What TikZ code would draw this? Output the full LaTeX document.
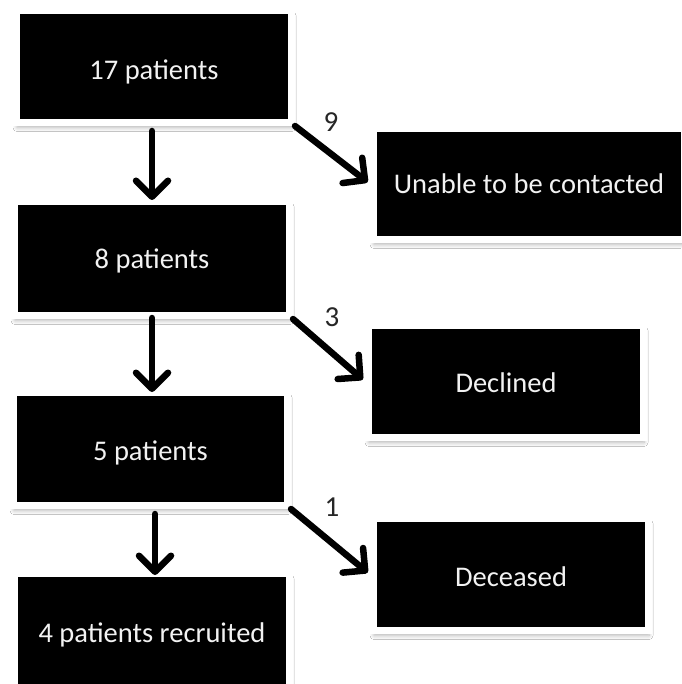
\documentclass[tikz,border=0pt]{standalone}
\usepackage{fontspec}
\setmainfont{Carlito}
\usetikzlibrary{arrows.meta,shadows.blur}
\tikzset{
  box/.style={rectangle, fill=black, draw=white, line width=7pt,
    text=white!90!gray, font=\fontsize{28.5}{32}\selectfont,
    inner sep=0pt, minimum width=275pt, minimum height=112pt,
    blur shadow={shadow xshift=0.5pt, shadow yshift=-5pt, shadow blur radius=4pt, shadow blur steps=6, shadow opacity=30}},
  flow/.style={line width=6.5pt, line cap=round,
    -{Straight Barb[length=16pt,width=32pt,line width=6.5pt,round]}},
  cnt/.style={font=\fontsize{29}{32}\selectfont, text=black!85}
}
\newcommand{\bt}[2][11pt]{\raisebox{-#1}[0pt][0pt]{#2}}
\begin{document}
\begin{tikzpicture}[x=1pt,y=-1pt]
\useasboundingbox (0,0) rectangle (681,684);
\fill[white] (0,0) rectangle (681,684);
\node[box] (b1) at (154,66.5) {\bt[13pt]{17 patients}};
\node[box, minimum height=114pt] (b2) at (152,258.5) {\bt[10pt]{8 patients}};
\node[box, minimum width=274pt, minimum height=113pt] (b3) at (150.5,449) {\bt{5 patients}};
\node[box, minimum height=114pt] (b4) at (152,630.5) {\bt[12pt]{4 patients recruited}};
\node[box, minimum width=311pt, minimum height=111pt] (r1) at (529,184) {\bt[10pt]{Unable to be contacted}};
\node[box] (r2) at (506,381.5) {\bt[10.5pt]{Declined}};
\node[box] (r3) at (511,574.5) {\bt[11.5pt]{Deceased}};
\coordinate (a1s) at (152,131);
\coordinate (a1e) at (152,200);
\coordinate (a2s) at (152,318);
\coordinate (a2e) at (152,392);
\coordinate (a3s) at (155,514);
\coordinate (a3e) at (155,575);
\draw[flow] (a1s) -- (a1e);
\draw[flow] (a2s) -- (a2e);
\draw[flow] (a3s) -- (a3e);
\draw[flow, shorten >=3pt] (b1.south east) -- (r1.west);
\draw[flow, shorten >=3pt] (b2.south east) -- (r2.west);
\draw[flow, shorten >=3pt] (b3.south east) -- (r3.west);
\node[cnt] (n9) at (331,122) {9};
\node[cnt] (n3) at (332,317) {3};
\node[cnt] (n1) at (332,507) {1};
\end{tikzpicture}
\end{document}
